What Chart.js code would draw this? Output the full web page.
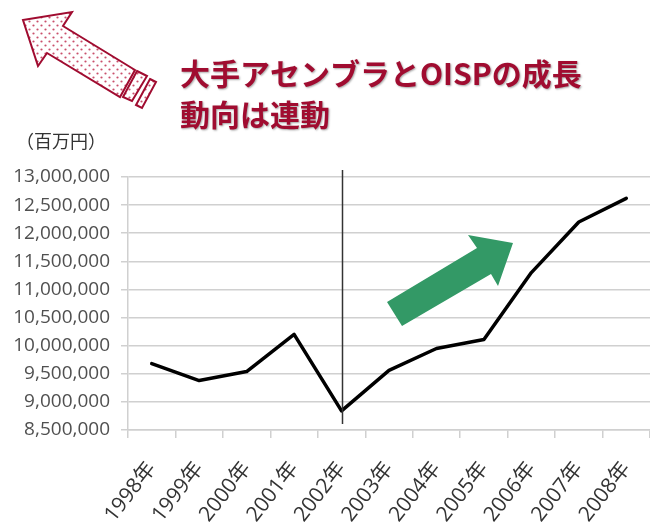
<!DOCTYPE html>
<html>
<head>
<meta charset="utf-8">
<script src="https://cdn.jsdelivr.net/npm/chart.js@4"></script>
<style>html,body{margin:0;background:#fff}</style>
</head>
<body>
<canvas id="c" width="650" height="527"></canvas>
<script>
// data (百万円)
const years = ['1998年','1999年','2000年','2001年','2002年','2003年','2004年','2005年','2006年','2007年','2008年'];
const sales = [9680000, 9380000, 9540000, 10200000, 8840000, 9560000, 9950000, 10110000, 11300000, 12200000, 12620000];
const yMin = 8500000, yMax = 13000000, yStep = 500000;
const markYear = '2002年';
const titleLines = ['大手アセンブラとOISPの成長', '動向は連動'];
const unitLabel = '（百万円）';

const CRIMSON = '#a00c30';
const GRID = '#d0d0d0';
const FONT = "'Open Sans', 'Noto Sans CJK JP', sans-serif";

function poly(ctx, pts) {
  ctx.beginPath();
  pts.forEach(([x, y], i) => i ? ctx.lineTo(x, y) : ctx.moveTo(x, y));
  ctx.closePath();
}

function dots(ctx) {
  const p = document.createElement('canvas');
  p.width = 8; p.height = 8;
  const g = p.getContext('2d');
  g.fillStyle = '#fff'; g.fillRect(0, 0, 8, 8);
  g.fillStyle = '#c9506c';
  g.beginPath(); g.arc(1.5, 1.5, 1.1, 0, 7); g.fill();
  g.beginPath(); g.arc(5.5, 5.5, 1.1, 0, 7); g.fill();
  return ctx.createPattern(p, 'repeat');
}

const decor = {
  id: 'decor',
  afterDatasetsDraw(chart) {
    const {ctx, scales} = chart;
    // marker line at 2002
    const mx = Math.round(scales.x.getPixelForValue(years.indexOf(markYear))) + 0.5;
    ctx.save();
    ctx.strokeStyle = '#333';
    ctx.lineWidth = 1.5;
    ctx.beginPath();
    ctx.moveTo(mx, 170);
    ctx.lineTo(mx, 424);
    ctx.stroke();

    // green trend arrow
    ctx.fillStyle = '#339966';
    poly(ctx, [[387,302],[477,248],[468,235],[513,243],[498,286],[491,274],[402,326]]);
    ctx.fill();
    ctx.restore();
  },
  afterDraw(chart) {
    const {ctx} = chart;
    ctx.save();
    // red dotted arrow
    ctx.fillStyle = dots(ctx);
    ctx.strokeStyle = CRIMSON;
    ctx.lineWidth = 2;
    ctx.lineJoin = 'miter';
    poly(ctx, [[23,20],[72,12],[63,26],[135,70],[120,97],[47,53],[38,66]]);
    ctx.fill(); ctx.stroke();
    poly(ctx, [[137,71],[147,76],[132,101],[123,97]]);
    ctx.fill(); ctx.stroke();
    poly(ctx, [[150,79],[156,82],[142,108],[136,105]]);
    ctx.fill(); ctx.stroke();

    // heading
    ctx.font = "bold 30px 'Noto Sans CJK JP', sans-serif";
    ctx.fillStyle = CRIMSON;
    ctx.textBaseline = 'middle';
    ctx.textAlign = 'left';
    ctx.shadowColor = 'rgba(0,0,0,0.35)';
    ctx.shadowOffsetX = 1;
    ctx.shadowOffsetY = 1;
    ctx.shadowBlur = 2;
    ctx.fillText(titleLines[0], 180, 74);
    ctx.fillText(titleLines[1], 180, 115);
    ctx.shadowColor = 'transparent';

    // unit
    ctx.font = "18px 'Noto Sans CJK JP', sans-serif";
    ctx.fillStyle = '#333';
    ctx.fillText(unitLabel, 16, 141);
    ctx.restore();
  }
};

new Chart(document.getElementById('c'), {
  type: 'line',
  data: {
    labels: years,
    datasets: [{
      data: sales,
      borderColor: '#000',
      borderWidth: 3.5,
      borderCapStyle: 'round',
      borderJoinStyle: 'round',
      pointRadius: 0,
      tension: 0,
      fill: false
    }]
  },
  options: {
    responsive: false,
    animation: false,
    layout: {padding: {top: 177, left: 0, right: 0, bottom: 0}},
    plugins: {legend: {display: false}, tooltip: {enabled: false}},
    scales: {
      x: {
        offset: true,
        afterFit: s => { s.height = 97; s.paddingLeft = 0; s.paddingRight = 0; },
        grid: {offset: true, drawOnChartArea: false, color: GRID, lineWidth: 1.5, tickLength: 8},
        border: {color: GRID, width: 1.5},
        ticks: {
          autoSkip: false,
          minRotation: 52,
          maxRotation: 52,
          padding: 19,
          color: '#333',
          font: {family: FONT, size: 21}
        }
      },
      y: {
        min: yMin,
        max: yMax,
        afterFit: s => { s.width = 128; s.paddingTop = 0; s.paddingBottom = 0; },
        grid: {color: GRID, lineWidth: 1.5, tickLength: 7},
        border: {color: GRID, width: 1.5},
        ticks: {
          stepSize: yStep,
          padding: 11,
          color: '#505050',
          font: {family: FONT, size: 19},
          callback: v => v.toLocaleString('en-US')
        }
      }
    }
  },
  plugins: [decor]
});
</script>
</body>
</html>
